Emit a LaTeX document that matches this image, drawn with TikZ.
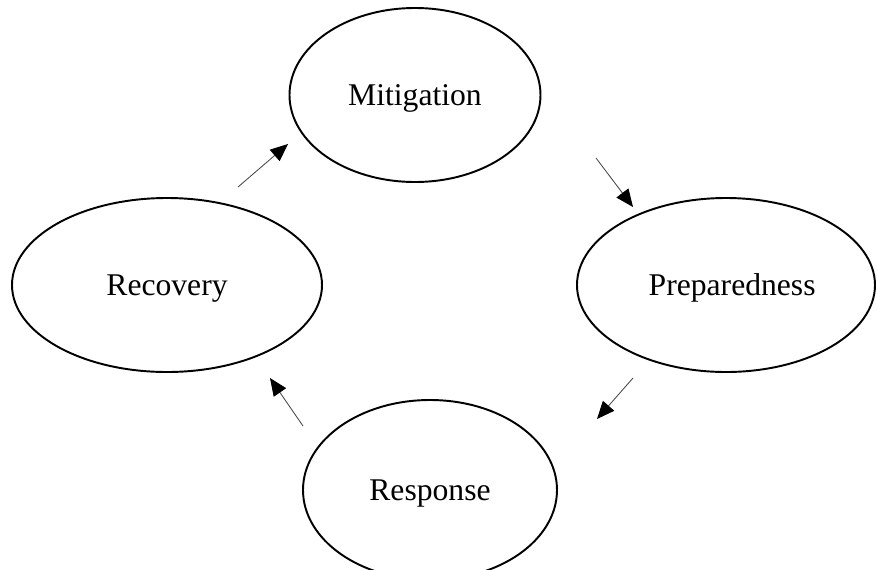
\documentclass[tikz,border=0pt]{standalone}
\usepackage{fontspec}
\setmainfont{Liberation Serif}
\usetikzlibrary{positioning,calc}
\usetikzlibrary{shapes.geometric,arrows.meta}

\begin{document}
\begin{tikzpicture}[x=0.02cm,y=-0.02cm,
        phase/.style={draw, ellipse, line width=1.1pt, inner sep=0pt, text height=12pt, text depth=0pt, font=\fontsize{18}{21}\selectfont},
        arr/.style={-{Triangle[length=10pt,width=8.5pt,black]}, line width=0.5pt, draw=black!70}]
        \useasboundingbox (0,0) rectangle (877,569);
        \node[phase, minimum width=251*0.02cm, minimum height=174*0.02cm] (mit) at (415,95) {Mitigation};
        \node[phase, minimum width=298*0.02cm, minimum height=174*0.02cm] (prep) at (726,285) {\hspace*{7pt}Preparedness};
        \node[phase, minimum width=254*0.02cm, minimum height=180*0.02cm] (resp) at (430,490) {Response};
        \node[phase, minimum width=310*0.02cm, minimum height=174*0.02cm] (rec) at (167,285) {Recovery};
        \draw[arr] ($(rec)+(71,-98)$) -- ($(mit)+(-127,49)$);
        \draw[arr] ($(mit)+(181,63)$) -- ($(prep)+(-93,-78)$);
        \draw[arr] ($(prep)+(-93,93)$) -- ($(resp)+(167,-71)$);
        \draw[arr] ($(resp)+(-127,-64)$) -- ($(rec)+(103,93)$);
    \end{tikzpicture}
\end{document}
